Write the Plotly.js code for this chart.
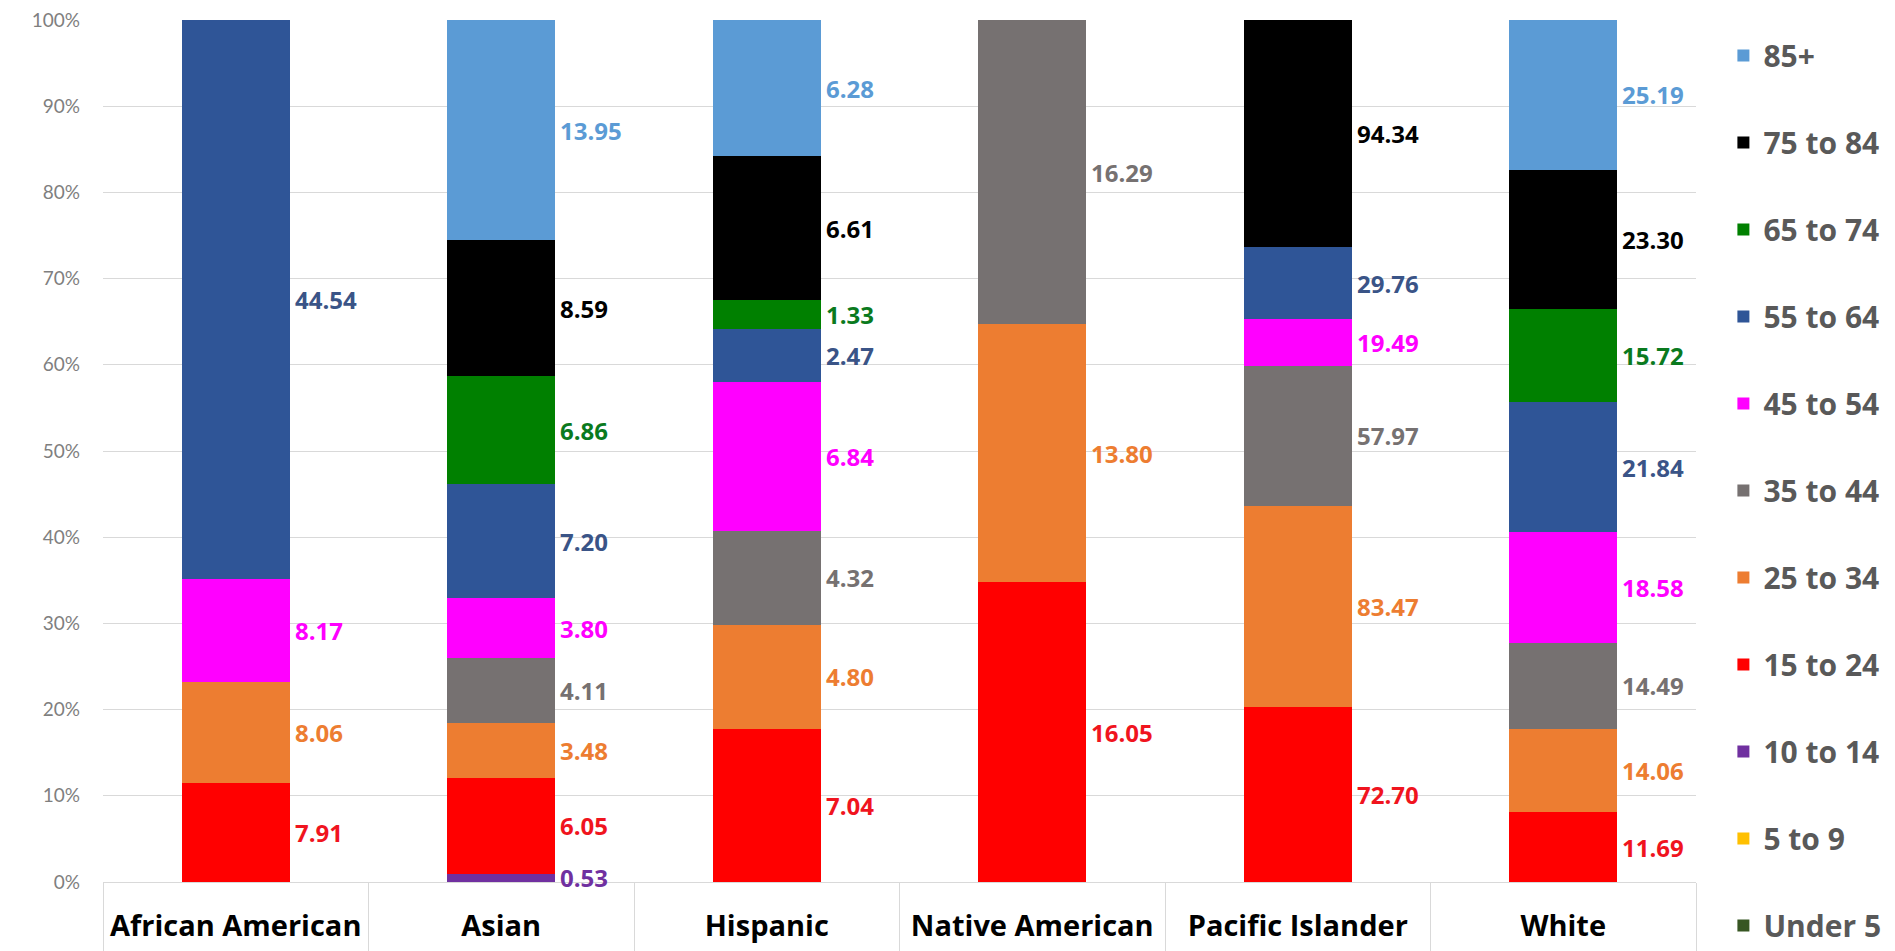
<!DOCTYPE html>
<html>
<head>
<meta charset="utf-8">
<script src="https://cdn.plot.ly/plotly-3.0.1.min.js"></script>
<style>html,body{margin:0;padding:0;background:#fff;}#chart{width:1895px;height:951px;}</style>
</head>
<body>
<div id="chart"></div>
<script>
// ---- data ----
const categories = ["African American", "Asian", "Hispanic", "Native American", "Pacific Islander", "White"];
const ageGroups = ["Under 5", "5 to 9", "10 to 14", "15 to 24", "25 to 34", "35 to 44", "45 to 54", "55 to 64", "65 to 74", "75 to 84", "85+"];
const under5   = [null, null, null, null, null, null];
const age5to9  = [null, null, null, null, null, null];
const age10to14 = [null, 0.53, null, null, null, null];
const age15to24 = [7.91, 6.05, 7.04, 16.05, 72.70, 11.69];
const age25to34 = [8.06, 3.48, 4.80, 13.80, 83.47, 14.06];
const age35to44 = [null, 4.11, 4.32, 16.29, 57.97, 14.49];
const age45to54 = [8.17, 3.80, 6.84, null, 19.49, 18.58];
const age55to64 = [44.54, 7.20, 2.47, null, 29.76, 21.84];
const age65to74 = [null, 6.86, 1.33, null, null, 15.72];
const age75to84 = [null, 8.59, 6.61, null, 94.34, 23.30];
const age85plus = [null, 13.95, 6.28, null, null, 25.19];
const seriesValues = [under5, age5to9, age10to14, age15to24, age25to34, age35to44, age45to54, age55to64, age65to74, age75to84, age85plus];
const yTickVals = [0, 10, 20, 30, 40, 50, 60, 70, 80, 90, 100];
const yTickText = ["0%", "10%", "20%", "30%", "40%", "50%", "60%", "70%", "80%", "90%", "100%"];

// ---- styles ----
const barColors = ["#375623", "#FFC000", "#7030A0", "#FF0000", "#ED7D31", "#767171", "#FF00FF", "#2F5597", "#008000", "#000000", "#5B9BD5"];
const labelColors = ["#375623", "#FFC000", "#7030A0", "#F0141E", "#ED7D31", "#767171", "#FF00FF", "#3A5487", "#0A7A1E", "#000000", "#5B9BD5"];
const BAR_WIDTH = 0.407;

const traces = ageGroups.map((name, k) => ({
  type: "bar",
  name: name,
  x: categories,
  y: seriesValues[k].map(v => v === null ? 0 : v),
  width: BAR_WIDTH,
  marker: { color: barColors[k], line: { width: 0 } },
  legendgroup: "g" + k,
  legendrank: 100 - k,
  hoverinfo: "name+y"
}));

// value labels at the middle of each normalized segment, right of bar
const totals = categories.map((c, i) => seriesValues.reduce((s, arr) => s + (arr[i] || 0), 0));
const annotations = [];
categories.forEach((c, i) => {
  let cum = 0;
  seriesValues.forEach((arr, k) => {
    const v = arr[i];
    if (v === null) return;
    const pct = v / totals[i] * 100;
    annotations.push({
      x: i + BAR_WIDTH / 2, y: cum + pct / 2, xref: "x", yref: "y",
      text: v.toFixed(2), showarrow: false, xanchor: "left", yanchor: "middle", xshift: 3,
      font: { family: "Open Sans", size: 24, color: labelColors[k], weight: 700 }
    });
    cum += pct;
  });
});

const layout = {
  width: 1895, height: 951,
  margin: { l: 103, r: 199, t: 20, b: 69, autoexpand: false },
  paper_bgcolor: "#fff", plot_bgcolor: "#fff",
  barmode: "stack", barnorm: "percent",
  showlegend: true,
  legend: {
    x: 1.0172, xanchor: "left", y: 0.989, yanchor: "top",
    traceorder: "grouped", tracegroupgap: 45, maxheight: 951,
    font: { family: "Open Sans", size: 30, color: "#595959", weight: 700 },
    bgcolor: "rgba(0,0,0,0)"
  },
  xaxis: {
    type: "category", tickson: "boundaries", ticks: "outside", ticklen: 69, tickcolor: "#D9D9D9", tickwidth: 1,
    ticklabelstandoff: 18,
    showline: true, linecolor: "#D9D9D9", linewidth: 1, showgrid: false,
    tickfont: { family: "Open Sans", size: 29, color: "#000", weight: 700 },
    range: [-0.5, categories.length - 0.5], fixedrange: true
  },
  yaxis: {
    range: [0, 100], tickvals: yTickVals, ticktext: yTickText,
    showgrid: true, gridcolor: "#D9D9D9", gridwidth: 1, zeroline: false, showline: false,
    ticks: "", ticklabelstandoff: 22,
    tickfont: { family: "Lato", size: 19, color: "#7F7F7F" }, fixedrange: true
  },
  annotations: annotations
};

Plotly.newPlot("chart", traces, layout, { displayModeBar: false, staticPlot: true });
</script>
</body>
</html>
